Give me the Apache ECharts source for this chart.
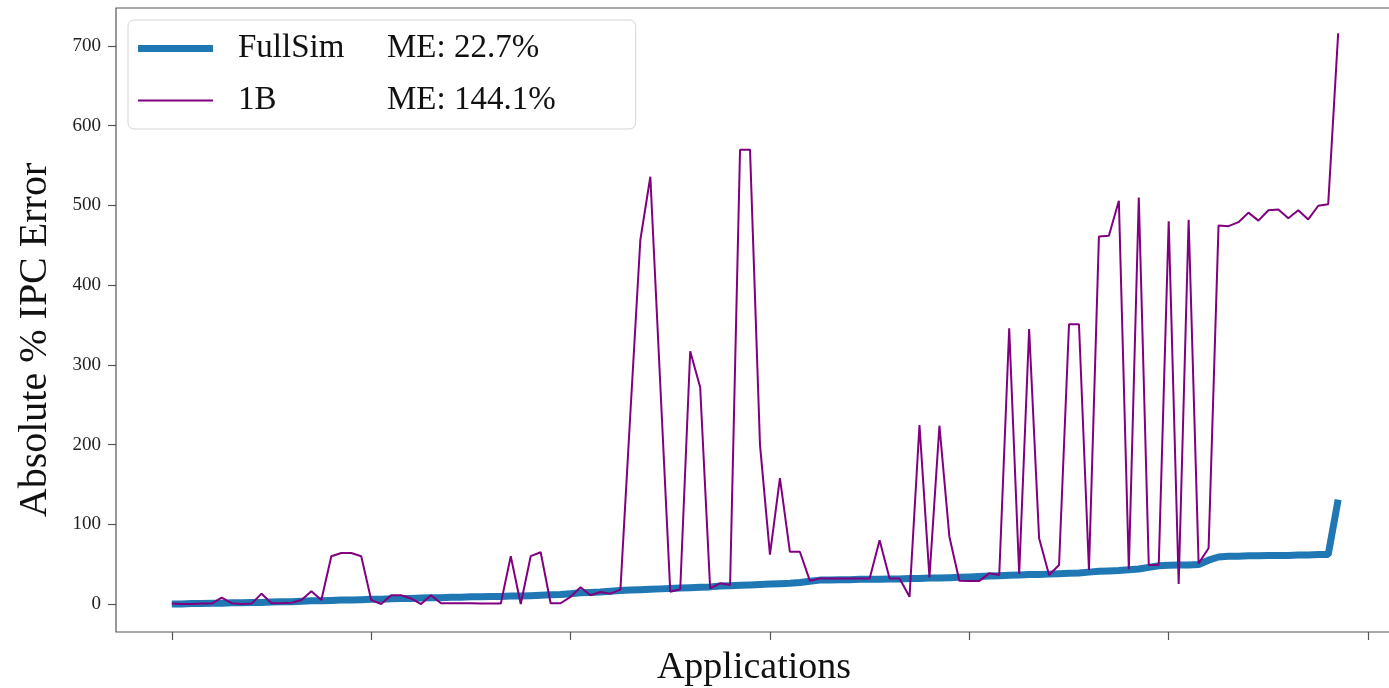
<!DOCTYPE html>
<html>
<head>
<meta charset="utf-8">
<script src="https://cdn.jsdelivr.net/npm/echarts@6/dist/echarts.min.js"></script>
<style>
html,body{margin:0;padding:0;background:#fff;}
#c{width:1389px;height:688px;}
</style>
</head>
<body>
<div id="c"></div>
<script>
// Application index (sorted by FullSim error)
const appIndex = Array.from({length: 118}, (_, i) => i);
// Absolute % IPC error, FullSim
const fullSim = [
  0,0,0.5,0.5,1,1,1.5,1.5,2,2,
  2.5,3,3,3.5,4,4,4.5,5,5,5.5,
  6,6,6.5,7,7,7.5,8,8,8.5,8.5,
  9,9,9.5,9.5,10,10,10.5,11,11.5,12,
  13,14,14.5,15,16,17,17.5,18,18.5,19,
  19.5,20,20.5,21,21.5,22.5,23,23.5,24,24.5,
  25,25.5,26,27,28.5,30,30,30.5,30.5,31,
  31,31,31.5,31.5,32,32,32.5,32.5,33,33.5,
  34,34.5,35,35.5,36,36.5,37,37,37.5,38,
  38.5,39,40,41,41.5,42,43,44,46,48,
  48.5,49,49,49.5,55,59,60,60,60.5,60.5,
  61,61,61,61.5,61.5,62,62,131
];
// Absolute % IPC error, 1B
const oneB = [
  0.5,0,0,0.5,0.5,8,1,0,0.5,13,
  1,1,1.5,5,16,5,60,64,64,60,
  5,0,11,11,7,0,11,1,1,1,
  1,0.5,0.5,0.5,60,0,60,65,1,1,
  9,21,11,15,13,18,240,457,536,275,
  15.5,18.5,317,272,19.7,26,24,570,570,200,
  62,158,65.6,65.6,29.3,32,32,32,32,32,
  32,80,32,32,9,224.6,33.5,223.7,84.5,29.3,
  29,29,38.5,36.4,346,37.6,345,82.4,36.4,48.9,
  351,351,42.7,461,462,506,43.5,510,48.9,48.9,
  480,25,482,51,70,475,474,479,491,481,
  494,495,484,494,482.5,499.6,501.6,716
];
const seriesNames = ['FullSim', '1B'];
const meanErrors = {'FullSim': 'ME: 22.7%', '1B': 'ME: 144.1%'};
const xTicks = [0, 20, 40, 60, 80, 100, 120];
const yTicks = [0, 100, 200, 300, 400, 500, 600, 700];

const serif = '"Liberation Serif", "DejaVu Serif", serif';
const chart = echarts.init(document.getElementById('c'), null, {renderer: 'canvas'});
chart.setOption({
  animation: false,
  backgroundColor: '#fff',
  grid: {
    left: 116, top: 8, right: -3, bottom: 56,
    outerBoundsMode: 'none',
    containLabel: false,
    show: true, borderColor: '#555', borderWidth: 1.2, backgroundColor: 'transparent'
  },
  legend: {
    data: [
      {name: 'FullSim', icon: 'path://M0,0H75V7H0Z'},
      {name: '1B', icon: 'path://M0,0H75V2H0Z'}
    ],
    orient: 'vertical',
    left: 128, top: 20,
    padding: [12, 80, 12, 10],
    itemGap: 19,
    itemWidth: 75,
    itemHeight: 34,
    backgroundColor: '#fff',
    borderColor: '#d5d5d5',
    borderWidth: 1,
    borderRadius: 6,
    formatter: name => '{a|' + name + '}{b|' + meanErrors[name] + '}',
    textStyle: {
      fontFamily: serif, fontSize: 33, color: '#111',
      rich: {
        a: {fontFamily: serif, fontSize: 33, color: '#111', width: 149, padding: [0, 0, 0, 20]},
        b: {fontFamily: serif, fontSize: 33, color: '#111'}
      }
    }
  },
  xAxis: {
    type: 'value',
    min: -5.6, max: 122.4,
    name: 'Applications',
    nameLocation: 'middle',
    nameGap: 17,
    nameTextStyle: {fontFamily: serif, fontSize: 38, color: '#111', verticalAlign: 'top'},
    axisLine: {show: false, onZero: false},
    axisTick: {show: true, length: 8, customValues: xTicks, lineStyle: {color: '#555', width: 1.2}},
    axisLabel: {show: false},
    splitLine: {show: false}
  },
  yAxis: {
    type: 'value',
    min: -35.1, max: 747.7,
    name: 'Absolute % IPC Error',
    nameLocation: 'middle',
    nameGap: 61,
    nameTextStyle: {fontFamily: serif, fontSize: 40, color: '#111', padding: [0, 40, 0, 0]},
    axisLine: {show: false, onZero: false},
    axisTick: {show: true, length: 8, customValues: yTicks, lineStyle: {color: '#555', width: 1.2}},
    axisLabel: {show: true, customValues: yTicks, fontFamily: serif, fontSize: 19, color: '#222', margin: 15},
    splitLine: {show: false}
  },
  series: [
    {
      name: 'FullSim', type: 'line', symbol: 'none', z: 2,
      data: appIndex.map((x, i) => [x, fullSim[i]]),
      lineStyle: {color: '#1f77b4', width: 7},
      itemStyle: {color: '#1f77b4'}
    },
    {
      name: '1B', type: 'line', symbol: 'none', z: 3,
      data: appIndex.map((x, i) => [x, oneB[i]]),
      lineStyle: {color: '#800080', width: 2},
      itemStyle: {color: '#800080'}
    }
  ]
});
</script>
</body>
</html>
